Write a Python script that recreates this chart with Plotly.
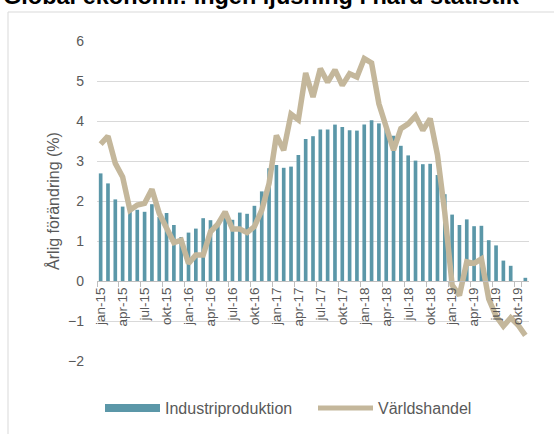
import plotly.graph_objects as go

# Categories (monthly, jan-15 .. nov-19)
month_names = ["jan", "feb", "mar", "apr", "maj", "jun", "jul", "aug", "sep", "okt", "nov", "dec"]
years = ["15", "16", "17", "18", "19"]
months = [f"{m}-{y}" for y in years for m in month_names][:59]
tick_labels = [m for m in months if m.split("-")[0] in ("jan", "apr", "jul", "okt")]

# Industriproduktion (bars), annual % change
industri = [
    2.69, 2.44, 2.04, 1.86, 1.74, 1.78, 1.73, 1.92, 1.60, 1.70, 1.40, 1.10,
    1.21, 1.31, 1.57, 1.52, 1.45, 1.58, 1.53, 1.71, 1.68, 1.88, 2.24, 2.82,
    2.90, 2.83, 2.86, 3.15, 3.55, 3.62, 3.79, 3.79, 3.91, 3.85, 3.77, 3.76,
    3.91, 4.02, 3.94, 3.80, 3.63, 3.38, 3.14, 3.01, 2.92, 2.93, 2.65, 2.17,
    1.66, 1.40, 1.54, 1.37, 1.38, 1.02, 0.89, 0.51, 0.38, None, 0.08,
]

# Världshandel (line), annual % change
varldshandel = [
    3.42, 3.62, 2.94, 2.60, 1.77, 1.90, 1.94, 2.29, 1.69, 1.36, 0.96, 1.02,
    0.44, 0.65, 0.65, 1.23, 1.42, 1.73, 1.30, 1.30, 1.21, 1.36, 1.77, 2.44,
    3.64, 3.27, 4.17, 4.03, 5.20, 4.60, 5.31, 4.97, 5.28, 4.89, 5.18, 5.10,
    5.56, 5.45, 4.43, 3.85, 3.27, 3.81, 3.93, 4.13, 3.77, 4.06, 3.15, 1.70,
    -0.10, -0.36, 0.48, 0.44, 0.55, -0.45, -0.88, -1.13, -0.92, -1.10, -1.36,
]

BAR_COLOR = "#5B97A8"
LINE_COLOR = "#C4B79B"
TEXT_COLOR = "#595959"
GRID_COLOR = "#D9D9D9"
FONT = "Arial, Liberation Sans, sans-serif"

# plot-area geometry in pixels
L, R, T, B = 97, 25, 41, 73
PW, PH = 554 - L - R, 434 - T - B


def px_x(px):
    return (px - L) / PW


def px_y(py):
    return (434 - B - py) / PH


fig = go.Figure()
fig.add_trace(go.Bar(
    x=months, y=industri, name="Industriproduktion",
    marker=dict(color=BAR_COLOR, line=dict(width=0)),
    showlegend=False,
))
fig.add_trace(go.Scatter(
    x=months, y=varldshandel, name="Världshandel", mode="lines",
    line=dict(color=LINE_COLOR, width=5.5),
    showlegend=False,
))
# legend entries
fig.add_trace(go.Scatter(
    x=[None], y=[None], name="Industriproduktion", mode="lines",
    line=dict(color=BAR_COLOR, width=8), showlegend=True, legend="legend",
))
fig.add_trace(go.Scatter(
    x=[None], y=[None], name="Världshandel", mode="lines",
    line=dict(color=LINE_COLOR, width=5), showlegend=True, legend="legend2",
))

legend_common = dict(
    orientation="h", xanchor="left", yanchor="middle",
    y=px_y(408),
    font=dict(size=16, color=TEXT_COLOR),
    itemwidth=55,
    bgcolor="rgba(0,0,0,0)",
)

fig.update_layout(
    width=554, height=434,
    margin=dict(l=L, r=R, t=T, b=B, autoexpand=False),
    paper_bgcolor="white", plot_bgcolor="white",
    font=dict(family=FONT, color=TEXT_COLOR, size=13),
    bargap=0.5,
    xaxis=dict(
        type="category",
        range=[-0.5, 58.5],
        anchor="free", position=0.25,
        automargin=False,
        showline=True, linecolor="#BFBFBF", linewidth=1,
        ticks="outside", ticklen=5, tickcolor="#BFBFBF",
        tickson="boundaries",
        tickvals=tick_labels, ticktext=tick_labels,
        tickangle=-90, tickfont=dict(size=13.5, color=TEXT_COLOR),
        showgrid=False, zeroline=False,
    ),
    yaxis=dict(
        range=[-2, 6], dtick=1,
        automargin=False,
        showgrid=True, gridcolor=GRID_COLOR, gridwidth=1,
        zeroline=False, showline=False,
        tickfont=dict(size=14, color=TEXT_COLOR),
        ticklabelstandoff=12,
        title=dict(text="Årlig förändring (%)", font=dict(size=16, color=TEXT_COLOR), standoff=4),
    ),
    legend=dict(x=px_x(100), **legend_common),
    legend2=dict(x=px_x(313), **legend_common),
    annotations=[dict(
        text="<b>Global ekonomi: ingen ljusning i hård statistik</b>",
        xref="paper", yref="paper",
        x=px_x(1), y=px_y(10.5), xanchor="left", yanchor="bottom",
        showarrow=False,
        font=dict(size=23.5, color="black", family=FONT),
    )],
    shapes=[dict(
        type="rect", xref="paper", yref="paper",
        x0=px_x(8), x1=px_x(570), y0=px_y(450), y1=px_y(12),
        line=dict(color=GRID_COLOR, width=1), fillcolor="rgba(0,0,0,0)", layer="below",
    )],
)

fig.write_html(
    "out.html",
    config={"displayModeBar": False},
    post_script="document.body.style.margin='0';",
)
